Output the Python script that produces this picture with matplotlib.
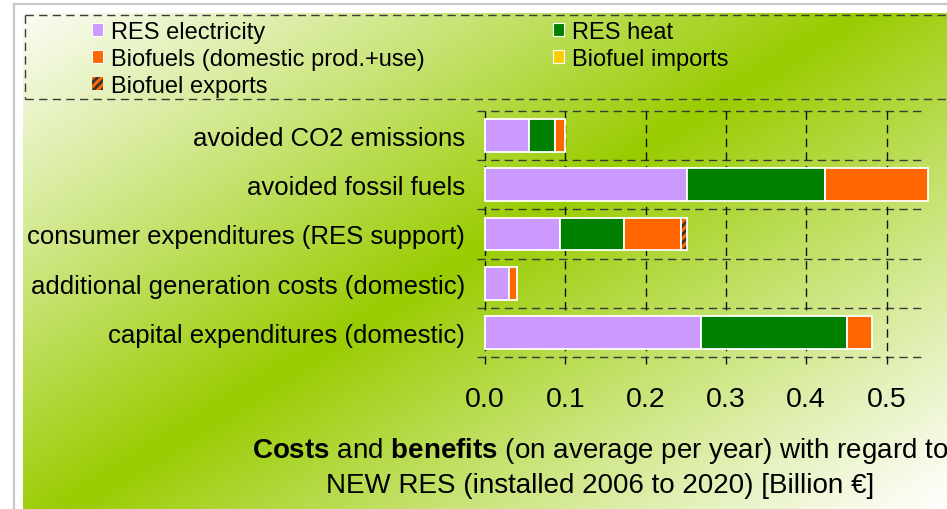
import matplotlib
matplotlib.use('Agg')
import matplotlib.pyplot as plt
import numpy as np
from matplotlib.patches import Patch

plt.rcParams['font.family'] = ['Liberation Sans', 'DejaVu Sans']
plt.rcParams['mathtext.fontset'] = 'custom'
plt.rcParams['mathtext.rm'] = 'Liberation Sans'
plt.rcParams['mathtext.bf'] = 'Liberation Sans:bold'
plt.rcParams['hatch.linewidth'] = 2.0

# Data (billion EUR per year), categories top to bottom
categories = [
    'avoided CO2 emissions',
    'avoided fossil fuels',
    'consumer expenditures (RES support)',
    'additional generation costs (domestic)',
    'capital expenditures (domestic)',
]
res_electricity = [0.055, 0.252, 0.093, 0.030, 0.269]
res_heat = [0.032, 0.172, 0.080, 0.000, 0.182]
biofuels_domestic = [0.013, 0.128, 0.071, 0.010, 0.031]
biofuel_imports = [0.000, 0.000, 0.000, 0.000, 0.000]
biofuel_exports = [0.000, 0.000, 0.008, 0.000, 0.000]
x_ticks = [0.0, 0.1, 0.2, 0.3, 0.4, 0.5]
x_tick_labels = ['0.0', '0.1', '0.2', '0.3', '0.4', '0.5']

series = [
    ('RES electricity', res_electricity, '#CC99FF', None),
    ('RES heat', res_heat, '#008000', None),
    ('Biofuels (domestic prod.+use)', biofuels_domestic, '#FF6600', None),
    ('Biofuel imports', biofuel_imports, '#FFCC00', None),
    ('Biofuel exports', biofuel_exports, '#FF6600', '////'),
]

W, H = 947, 510
fig = plt.figure(figsize=(W / 100, H / 100), dpi=100)

# background: white page, grey frame, diagonal white-green-white gradient
yy, xx = np.mgrid[0:H, 0:W].astype(float)
s = 0.529 * xx + 0.849 * yy
f = np.clip(1 - np.abs(s - 466) / 470, 0, 1) ** 1.1
green = np.array([153, 204, 0]) / 255
white = np.array([1.0, 1.0, 1.0])
img = white * (1 - f[..., None]) + green * f[..., None]
img[(yy < 14) | (xx < 23)] = 1.0
bg = fig.add_axes([0, 0, 1, 1], zorder=0)
bg.imshow(img, extent=(0, W, H, 0), aspect='auto', interpolation='bilinear')
bg.set_xlim(0, W)
bg.set_ylim(H, 0)
bg.axis('off')
bg.plot([14, W], [5, 5], color='#c8c8c8', lw=1.6)
bg.plot([14, 14], [5, H], color='#c8c8c8', lw=1.6)

# dashed legend box (runs off the right edge)
dash = dict(color='#3a3a3a', lw=1.0, dashes=(6, 3.8))
bg.plot([24.5, W], [15.5, 15.5], **dash)
bg.plot([24.5, W], [99.5, 99.5], **dash)
bg.plot([24.5, 24.5], [15.5, 99.5], **dash)

# main axes: 0.1 units = 80.3 px, x=0 at 485 px
ax = fig.add_axes([485 / W, 1 - 358 / H, 0.56 * 803 / W, 246 / H], zorder=1)
ax.patch.set_alpha(0)
ax.set_xlim(0, 0.56)
ax.set_ylim(len(categories) - 0.5, -0.5)
for sp in ax.spines.values():
    sp.set_visible(False)

y = np.arange(len(categories))
for b in np.arange(len(categories) + 1) - 0.5:
    ax.plot([-0.01, 0.545], [b, b], color='#3a3a3a', lw=1.0,
            dashes=(6, 3.8), clip_on=False, zorder=1)
for xt in x_ticks:
    ax.plot([xt, xt], [-0.5, len(categories) - 0.35], color='#111111',
            lw=1.0, dashes=(6, 3.8), clip_on=False, zorder=1)

left = np.zeros(len(categories))
handles = []
for label, vals, color, hatch in series:
    vals = np.asarray(vals, dtype=float)
    m = vals > 0
    if hatch:
        ax.barh(y[m], vals[m], left=left[m], height=0.67, color=color,
                edgecolor='#333333', hatch=hatch, lw=0, zorder=2, clip_on=False)
        ax.barh(y[m], vals[m], left=left[m], height=0.67, fill=False,
                edgecolor='white', lw=1.3, zorder=3, clip_on=False)
        handles.append(Patch(facecolor=color, edgecolor='#333333', hatch=hatch,
                             lw=0, label=label))
    else:
        ax.barh(y[m], vals[m], left=left[m], height=0.67, color=color,
                edgecolor='white', lw=1.3, zorder=2, clip_on=False)
        handles.append(Patch(facecolor=color, edgecolor='white', lw=0.8,
                             label=label))
    left += vals

ax.set_yticks(y)
ax.set_yticklabels(categories, fontsize=18.5)
ax.set_xticks(x_ticks)
ax.set_xticklabels(x_tick_labels, fontsize=20.5)
ax.tick_params(axis='y', length=0, pad=14.4)
ax.tick_params(axis='x', length=0, pad=21)

# legend: two columns placed separately
leg_kw = dict(frameon=False, fontsize=17, loc='upper left', borderpad=0,
              borderaxespad=0, handlelength=0.47, handleheight=0.47,
              handletextpad=0.34, labelspacing=0.22)
col1 = [handles[0], handles[2], handles[4]]
col2 = [handles[1], handles[3]]
fig.legend(handles=col1, bbox_to_anchor=(92 / W, 1 - 22 / H), **leg_kw)
fig.legend(handles=col2, bbox_to_anchor=(553 / W, 1 - 22 / H), **leg_kw)

# axis title, two lines
bg.text(600, 458, r'$\mathbf{Costs}$ and $\mathbf{benefits}$ (on average per year) with regard to',
        ha='center', va='baseline', fontsize=20)
bg.text(600, 493, 'NEW RES (installed 2006 to 2020) [Billion €]',
        ha='center', va='baseline', fontsize=20)

fig.savefig('out.png', dpi=100)
